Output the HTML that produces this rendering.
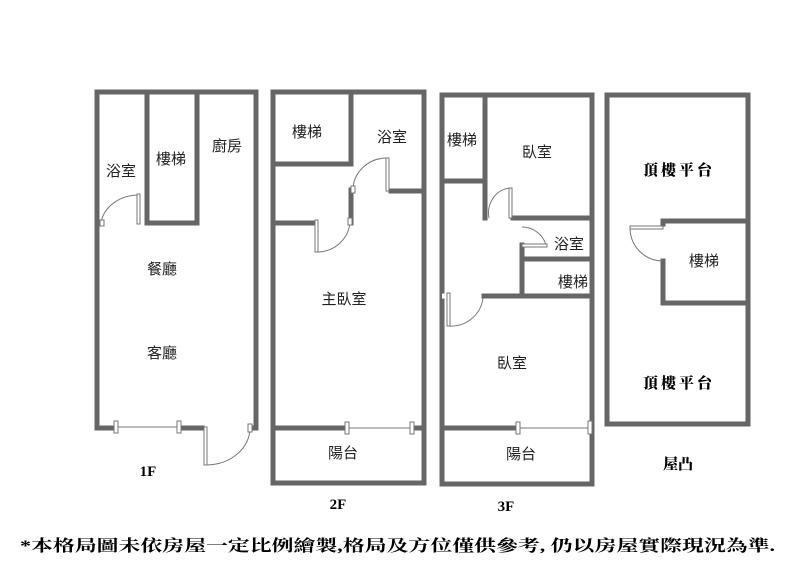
<!DOCTYPE html>
<html><head><meta charset="utf-8"><style>
html,body{margin:0;padding:0;background:#fff;width:797px;height:575px;overflow:hidden}
svg text{font-family:"Liberation Sans","Noto Sans CJK TC",sans-serif;fill:#222}
</style></head><body>
<svg width="797" height="575" viewBox="0 0 797 575" xmlns="http://www.w3.org/2000/svg">
<g stroke="#666" stroke-width="5" fill="none" stroke-linecap="square">
<!-- 1F -->
<path d="M97,428 V92 H256 V428"/>
<path d="M97,428 H115"/>
<path d="M180,428 H202"/>
<path d="M250,428 H256"/>
<path d="M147,92 V223 H197 V92"/>
<!-- 2F -->
<path d="M273,92 H424 V483 H273 Z"/>
<path d="M273,428 H347"/>
<path d="M412,428 H424"/>
<path d="M351,92 V160"/>
<path d="M351,190 V223"/>
<path d="M273,164 H351"/>
<path d="M273,223 H315"/>
<path d="M391,191 H424"/>
<!-- 3F -->
<path d="M442,95 H592 V484 H442 Z"/>
<path d="M442,428 H518"/>
<path d="M485,95 V218"/>
<path d="M442,181 H485"/>
<path d="M513,218 H592"/>
<path d="M522,245 V294"/>
<path d="M522,259 H592"/>
<path d="M484,296 H592"/>
<!-- roof -->
<path d="M607,95 H748 V424 H607 Z"/>
<path d="M663,224 V221 H748"/>
<path d="M663,261 V303 H748"/>
</g>
<!-- windows -->
<g stroke="#777" stroke-width="1" fill="#fff">
<line x1="115" y1="427" x2="180" y2="427"/>
<rect x="114" y="421" width="4" height="12"/><rect x="177" y="421" width="4" height="12"/>
<line x1="347" y1="428" x2="412" y2="428"/>
<rect x="345" y="422" width="4" height="12"/><rect x="410" y="422" width="4" height="12"/>
<line x1="518" y1="428" x2="590" y2="428"/>
<rect x="516" y="422" width="4" height="12"/><rect x="588" y="421" width="4" height="13"/>
<line x1="442" y1="296" x2="447" y2="296" stroke="#fff" stroke-width="5"/>
</g>
<!-- doors -->
<g stroke="#777" stroke-width="1" fill="none">
<path d="M101,223 A38,32 0 0 1 139,195"/>
<rect x="137" y="194" width="3" height="30" fill="#fff"/><rect x="100" y="220" width="4" height="6" fill="#fff"/>
<path d="M250,428 A44,37 0 0 1 206,465"/>
<rect x="204" y="427" width="3" height="38" fill="#fff"/><rect x="248" y="424" width="4" height="8" fill="#fff"/>
<path d="M350,221 A33,32 0 0 1 317,252"/>
<rect x="315" y="220" width="3" height="32" fill="#fff"/><rect x="348" y="218" width="4" height="7" fill="#fff"/>
<path d="M353,190 A34,32 0 0 1 387,158"/>
<rect x="386" y="158" width="3" height="33" fill="#fff"/><rect x="351" y="186" width="4" height="7" fill="#fff"/>
<path d="M489,218 A23,25 0 0 1 511,188"/>
<rect x="509" y="188" width="3" height="30" fill="#fff"/>
<path d="M522,227 A25,25 0 0 1 546,245"/>
<rect x="522" y="244" width="25" height="3" fill="#fff"/>
<path d="M449,326 A32,32 0 0 0 483,298"/>
<rect x="447" y="293" width="3" height="33" fill="#fff"/>
<path d="M663,261 A33,33 0 0 1 630,228"/>
<rect x="630" y="226" width="33" height="3" fill="#fff"/>
</g>
<g font-size="15" text-anchor="middle">
<text x="121" y="176">浴室</text><text x="171" y="164">樓梯</text><text x="227" y="151">廚房</text>
<text x="162" y="274">餐廳</text><text x="162" y="358">客廳</text>
<text x="307" y="137">樓梯</text><text x="392" y="142">浴室</text><text x="344" y="304">主臥室</text>
<text x="343" y="458">陽台</text>
<text x="462" y="145">樓梯</text><text x="537" y="157">臥室</text><text x="569" y="249">浴室</text>
<text x="573" y="287">樓梯</text><text x="512" y="368">臥室</text><text x="521" y="459">陽台</text>
<text x="704" y="266">樓梯</text>
</g>
<g font-size="15" font-weight="bold" text-anchor="middle">
<text x="679" y="175" style="letter-spacing:3px;font-family:'Liberation Serif','Noto Serif CJK SC',serif;font-weight:900;fill:#000">頂樓平台</text>
<text x="679" y="388" style="letter-spacing:3px;font-family:'Liberation Serif','Noto Serif CJK SC',serif;font-weight:900;fill:#000">頂樓平台</text>
<text x="678" y="469" style="font-family:'Liberation Serif','Noto Serif CJK SC',serif;font-weight:900;fill:#000">屋凸</text>
<text x="148" y="476" style="font-family:'Liberation Serif',serif;fill:#000">1F</text>
<text x="338" y="509" style="font-family:'Liberation Serif',serif;fill:#000">2F</text>
<text x="506" y="511" style="font-family:'Liberation Serif',serif;fill:#000">3F</text>
</g>
<text x="20" y="551" font-size="16" font-weight="bold" textLength="755" lengthAdjust="spacingAndGlyphs" style="font-family:'Liberation Serif','Noto Serif CJK SC',serif;fill:#000">*本格局圖未依房屋一定比例繪製,格局及方位僅供參考, 仍以房屋實際現況為準.</text>
</svg>
</body></html>
